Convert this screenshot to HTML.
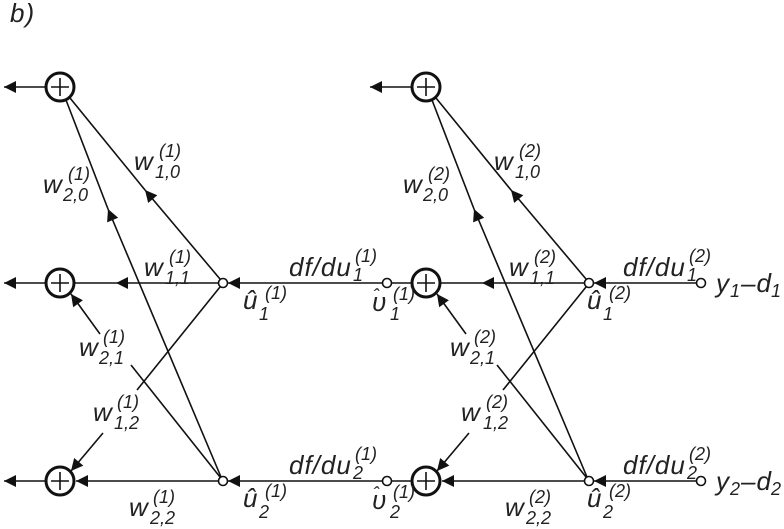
<!DOCTYPE html>
<html><head><meta charset="utf-8"><style>
html,body{margin:0;padding:0;background:#fff;}
svg{display:block;font-family:"Liberation Sans",sans-serif;font-style:italic;fill:#222;}
.m{font-size:26px;letter-spacing:1px}.s{font-size:18px}
</style></head><body>
<svg width="784" height="529" viewBox="0 0 784 529" xmlns="http://www.w3.org/2000/svg">
<defs>
<marker id="a" viewBox="0 0 10 10" refX="10" refY="5" markerWidth="16" markerHeight="12" markerUnits="userSpaceOnUse" orient="auto"><path d="M0,0L10,5L0,10z" fill="#111"/></marker>
<g id="blk" stroke="#111" fill="none" stroke-width="1.6">
  <circle cx="60" cy="87" r="14" stroke-width="3"/>
  <circle cx="60" cy="283" r="14" stroke-width="3"/>
  <circle cx="60" cy="481" r="14" stroke-width="3"/>
  <path d="M51,87h18M60,78v18M51,283h18M60,274v18M51,481h18M60,472v18" stroke-width="1.6"/>
  <line x1="46" y1="87" x2="4" y2="87" marker-end="url(#a)"/>
  <circle cx="223" cy="283" r="4.5" fill="#fff"/>
  <circle cx="223" cy="481" r="4.5" fill="#fff"/>
  <line x1="218" y1="283" x2="116" y2="283" marker-end="url(#a)"/>
  <line x1="116" y1="283" x2="74" y2="283"/>
  <line x1="218" y1="481" x2="76" y2="481" marker-end="url(#a)"/>
  <line x1="220" y1="279" x2="145" y2="190" marker-end="url(#a)"/>
  <line x1="145" y1="190" x2="70" y2="98"/>
  <line x1="221" y1="477" x2="108" y2="209" marker-end="url(#a)"/>
  <line x1="108" y1="209" x2="66" y2="100"/>
  <line x1="220" y1="477" x2="131" y2="365"/>
  <line x1="100" y1="334" x2="71" y2="294" marker-end="url(#a)"/>
  <line x1="220" y1="287" x2="137" y2="390"/>
  <line x1="103" y1="433" x2="71" y2="471" marker-end="url(#a)"/>
</g>
</defs>
<text x="10" y="22" class="m">b)</text>
<use href="#blk"/>
<use href="#blk" x="366"/>
<g stroke="#111" fill="none" stroke-width="1.6">
  <line x1="46" y1="283" x2="4" y2="283" marker-end="url(#a)"/>
  <line x1="46" y1="481" x2="4" y2="481" marker-end="url(#a)"/>
  <line x1="382" y1="283" x2="228" y2="283" marker-end="url(#a)"/>
  <line x1="382" y1="481" x2="228" y2="481" marker-end="url(#a)"/>
  <circle cx="387" cy="283" r="4.5" fill="#fff"/>
  <circle cx="387" cy="481" r="4.5" fill="#fff"/>
  <line x1="392" y1="283" x2="412" y2="283"/>
  <line x1="392" y1="481" x2="412" y2="481"/>
  <line x1="696" y1="283" x2="594" y2="283" marker-end="url(#a)"/>
  <line x1="696" y1="481" x2="594" y2="481" marker-end="url(#a)"/>
  <circle cx="701" cy="283" r="4.5" fill="#fff"/>
  <circle cx="701" cy="481" r="4.5" fill="#fff"/>
</g>
<g>
<text x="134" y="170" class="m">w</text><text x="159" y="157" class="s">(1)</text><text x="155" y="178" class="s">1,0</text>
<text x="43" y="193" class="m">w</text><text x="68" y="180" class="s">(1)</text><text x="63" y="201" class="s">2,0</text>
<text x="144" y="276" class="m">w</text><text x="169" y="263" class="s">(1)</text><text x="165" y="284" class="s">1,1</text>
<text x="79" y="356" class="m">w</text><text x="103" y="343" class="s">(1)</text><text x="99" y="364" class="s">2,1</text>
<text x="93" y="421" class="m">w</text><text x="117" y="408" class="s">(1)</text><text x="114" y="429" class="s">1,2</text>
<text x="129" y="516" class="m">w</text><text x="153" y="503" class="s">(1)</text><text x="150" y="524" class="s">2,2</text>
<text x="243" y="309" class="m">û</text><text x="265" y="299" class="s">(1)</text><text x="259" y="320" class="s">1</text>
<text x="243" y="507" class="m">û</text><text x="265" y="497" class="s">(1)</text><text x="259" y="518" class="s">2</text>
<text x="289" y="276" class="m">df/du</text><text x="353" y="281" class="s">1</text><text x="355" y="262" class="s">(1)</text>
<text x="289" y="474" class="m">df/du</text><text x="353" y="479" class="s">2</text><text x="355" y="460" class="s">(1)</text>
<text x="372" y="311" class="m">υ</text><text x="373" y="302" class="s">ˆ</text><text x="393" y="300" class="s">(1)</text><text x="390" y="320" class="s">1</text>
<text x="372" y="509" class="m">υ</text><text x="373" y="500" class="s">ˆ</text><text x="393" y="498" class="s">(1)</text><text x="390" y="518" class="s">2</text>
</g>
<g>
<text x="494" y="170" class="m">w</text><text x="519" y="157" class="s">(2)</text><text x="515" y="178" class="s">1,0</text>
<text x="403" y="193" class="m">w</text><text x="428" y="180" class="s">(2)</text><text x="423" y="201" class="s">2,0</text>
<text x="509" y="276" class="m">w</text><text x="534" y="263" class="s">(2)</text><text x="530" y="284" class="s">1,1</text>
<text x="450" y="356" class="m">w</text><text x="474" y="343" class="s">(2)</text><text x="470" y="364" class="s">2,1</text>
<text x="461" y="421" class="m">w</text><text x="486" y="408" class="s">(2)</text><text x="483" y="429" class="s">1,2</text>
<text x="505" y="516" class="m">w</text><text x="529" y="503" class="s">(2)</text><text x="526" y="524" class="s">2,2</text>
<text x="587" y="309" class="m">û</text><text x="609" y="299" class="s">(2)</text><text x="603" y="320" class="s">1</text>
<text x="587" y="507" class="m">û</text><text x="609" y="497" class="s">(2)</text><text x="603" y="518" class="s">2</text>
<text x="623" y="276" class="m">df/du</text><text x="687" y="281" class="s">1</text><text x="689" y="262" class="s">(2)</text>
<text x="623" y="474" class="m">df/du</text><text x="687" y="479" class="s">2</text><text x="689" y="460" class="s">(2)</text>
<text x="716" y="292" class="m">y</text><text x="730" y="297" class="s">1</text><text x="741" y="292" class="m">–d</text><text x="771" y="297" class="s">1</text>
<text x="716" y="490" class="m">y</text><text x="730" y="495" class="s">2</text><text x="741" y="490" class="m">–d</text><text x="771" y="495" class="s">2</text>
</g>
</svg>
</body></html>
